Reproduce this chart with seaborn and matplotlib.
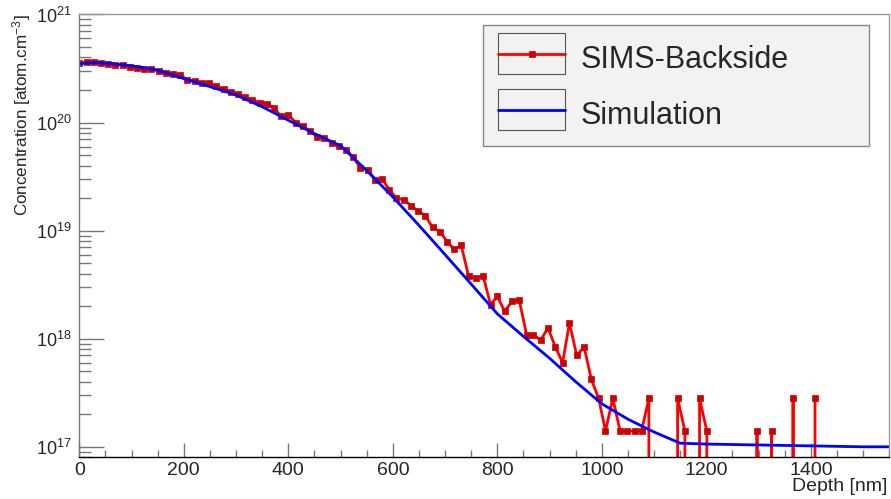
import numpy as np
import pandas as pd
import seaborn as sns
import matplotlib
matplotlib.use('Agg')
import matplotlib.pyplot as plt
from matplotlib.ticker import LogLocator, MultipleLocator, LogFormatterMathtext, NullFormatter
from matplotlib.legend_handler import HandlerLine2D
from matplotlib.patches import Rectangle
from matplotlib.lines import Line2D

# SIMS 측정값 (depth [nm], concentration [atom/cm3]) - 0 은 검출한계 이하
depth_sims = [0, 14, 28, 41, 55, 69, 83, 97, 110, 124, 138, 152, 166, 179, 193, 207, 221, 235,
              248, 262, 276, 290, 304, 317, 331, 345, 359, 373, 386, 400, 414, 428, 442, 455,
              469, 483, 497, 511, 524, 538, 552, 566, 580, 593, 607, 621, 635, 649, 662, 676,
              690, 704, 718, 731, 745, 759, 773, 787, 800, 814, 828, 842, 856, 869, 883, 897,
              911, 925, 938, 952, 966, 980, 994, 1007, 1021, 1035, 1049, 1063, 1076, 1090, 1104,
              1118, 1132, 1145, 1159, 1173, 1187, 1201, 1214, 1228, 1242, 1256, 1270, 1283, 1297,
              1311, 1325, 1339, 1352, 1366, 1380, 1394, 1408]
conc_sims = [3.54e20, 3.62e20, 3.66e20, 3.58e20, 3.49e20, 3.41e20, 3.41e20, 3.29e20, 3.22e20,
             3.11e20, 3.11e20, 3.02e20, 2.86e20, 2.82e20, 2.76e20, 2.48e20, 2.43e20, 2.34e20,
             2.31e20, 2.18e20, 2.04e20, 1.93e20, 1.83e20, 1.71e20, 1.62e20, 1.53e20, 1.49e20,
             1.36e20, 1.14e20, 1.18e20, 1.00e20,
             9.3e19, 8.3e19, 7.4e19, 7.2e19, 6.5e19, 6.1e19, 5.6e19, 4.8e19, 3.8e19, 3.66e19,
             2.95e19, 3.0e19, 2.39e19, 2.0e19, 1.93e19, 1.70e19, 1.51e19, 1.38e19,
             1.07e19, 9.8e18, 7.9e18, 6.7e18, 7.3e18, 3.8e18, 3.65e18, 3.78e18, 2.07e18, 2.47e18,
             1.79e18, 2.22e18, 2.27e18, 1.09e18, 1.09e18, 9.7e17, 1.26e18,
             8.4e17, 6.0e17, 1.4e18, 7.0e17, 8.4e17, 4.2e17, 2.8e17, 1.4e17, 2.8e17, 1.4e17,
             1.4e17, 1.4e17, 1.4e17, 2.8e17,
             0, 0, 0,
             2.8e17, 1.4e17, 0, 2.8e17, 1.4e17,
             0, 0, 0, 0, 0, 0,
             1.4e17, 0, 1.4e17, 0, 0, 2.8e17, 0, 0, 2.8e17]

# 시뮬레이션 결과
depth_sim = [0, 25, 50, 100, 150, 200, 250, 300, 350, 400, 450, 500, 550, 600, 650, 700, 750,
             800, 850, 900, 950, 1000, 1050, 1100, 1150, 1200, 1250, 1300, 1350, 1400, 1450,
             1500, 1550]
conc_sim = [3.5e20, 3.58e20, 3.55e20, 3.35e20, 3.05e20, 2.55e20, 2.15e20, 1.8e20, 1.4e20,
            1.05e20, 7.9e19, 6.1e19, 3.6e19, 2.05e19, 1.12e19, 6.0e18, 3.2e18, 1.7e18,
            1.05e18, 6.6e17, 4.0e17, 2.5e17, 1.8e17, 1.37e17, 1.08e17, 1.06e17, 1.05e17,
            1.04e17, 1.03e17, 1.02e17, 1.01e17, 1.0e17, 1.0e17]

sns.set_style('white')
plt.rcParams['font.family'] = ['Liberation Sans', 'DejaVu Sans']
plt.rcParams['mathtext.default'] = 'regular'


# 범례 선 주위에 ROOT 스타일 상자
class BoxedLine(HandlerLine2D):
    def create_artists(self, legend, orig_handle, xdescent, ydescent, width, height, fontsize, trans):
        arts = super().create_artists(legend, orig_handle, xdescent, ydescent, width, height, fontsize, trans)
        yc = (height - ydescent) / 2.0
        bh = 1.34 * fontsize
        box = Rectangle((-xdescent, yc - bh / 2), width, bh, fill=False,
                        ec='#555555', lw=0.8, transform=trans)
        return [box] + arts


fig = plt.figure(figsize=(8.91, 4.99), dpi=100)
ax = fig.add_axes([0.089, 0.0836, 0.909, 0.8874])

df_sims = pd.DataFrame({'Depth': depth_sims, 'Conc': conc_sims})
df_sim = pd.DataFrame({'Depth': depth_sim, 'Conc': conc_sim})

sns.lineplot(data=df_sims, x='Depth', y='Conc', estimator=None, color='#ff0000', lw=2.0,
             marker='s', markersize=3.8, mfc='#cc0000', mec='#cc0000', mew=0.5,
             label='SIMS-Backside', ax=ax)
sns.lineplot(data=df_sim, x='Depth', y='Conc', estimator=None, color='#0000ff', lw=2.0,
             label='Simulation', ax=ax)

ax.set_yscale('log')
ax.set_xlim(0, 1550)
ax.set_ylim(8e16, 1e21)

ax.xaxis.set_major_locator(MultipleLocator(200))
ax.xaxis.set_minor_locator(MultipleLocator(50))
ax.yaxis.set_major_locator(LogLocator(base=10, numticks=10))
ax.yaxis.set_minor_locator(LogLocator(base=10, subs=np.arange(2, 10), numticks=30))
ax.yaxis.set_major_formatter(LogFormatterMathtext())
ax.yaxis.set_minor_formatter(NullFormatter())

ax.tick_params(axis='x', which='major', bottom=True, direction='in', length=10, width=1,
               color='#777777', labelsize=14, pad=3.5)
ax.tick_params(axis='x', which='minor', bottom=True, direction='in', length=5, width=1,
               color='#777777')
ax.tick_params(axis='y', which='major', left=True, direction='in', length=18, width=1,
               color='#777777', labelsize=13, pad=5.5)
ax.tick_params(axis='y', which='minor', left=True, direction='in', length=8.6, width=1,
               color='#777777')

for s in ['top', 'right']:
    ax.spines[s].set_color('#999999')
ax.spines['left'].set_color('#777777')
ax.spines['bottom'].set_color('black')
for s in ax.spines.values():
    s.set_linewidth(1)

ax.set_ylabel('Concentration [atom.cm$^{-3}$]', fontsize=12.3, loc='top')
ax.yaxis.set_label_coords(-0.057, 1.0)
ax.set_xlabel('Depth [nm]', fontsize=14, loc='right')
ax.xaxis.set_label_coords(0.998, -0.047)

leg = ax.legend(loc='upper left', bbox_to_anchor=(0.499, 0.712, 0.476, 0.264), mode='expand',
                fontsize=22, frameon=True, fancybox=False, edgecolor='#888888',
                facecolor='#f2f2f2', framealpha=1, handlelength=2.2, handleheight=1.4,
                handletextpad=0.5, labelspacing=0.68, borderpad=0.48, borderaxespad=0,
                numpoints=1, handler_map={Line2D: BoxedLine()})
leg.get_frame().set_linewidth(1.0)

fig.savefig('out.png', dpi=100, facecolor='white')
